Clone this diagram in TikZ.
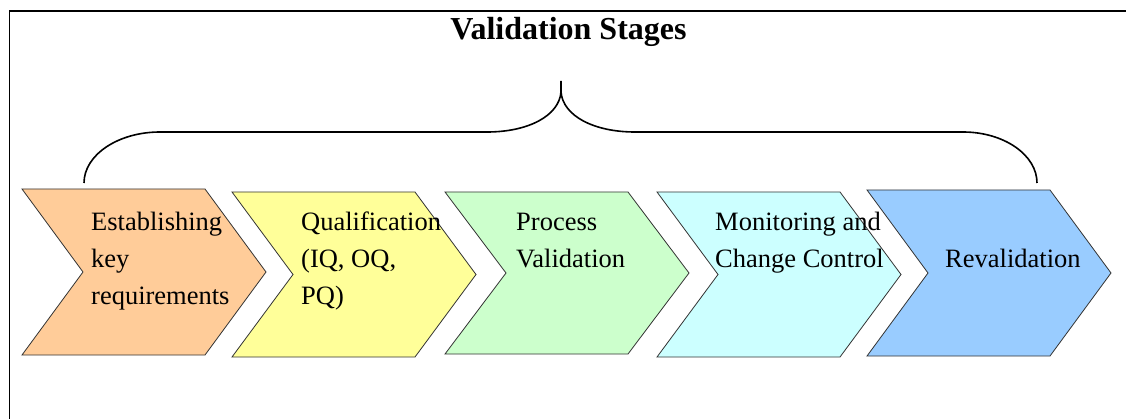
\documentclass[tikz,border=0pt]{standalone}
\usepackage{fontspec}
\setmainfont{Liberation Serif}
\usepackage{xcolor}
\usepackage{tikz}
\definecolor{Cor}{RGB}{255,204,153}
\definecolor{Cye}{RGB}{255,255,153}
\definecolor{Cgr}{RGB}{204,255,204}
\definecolor{Ccy}{RGB}{204,255,255}
\definecolor{Cbl}{RGB}{153,204,255}
\tikzset{
  stagetxt/.style={anchor=base west,inner sep=0pt,align=left,
    font=\fontsize{26.5}{37}\selectfont},
}
\begin{document}
\begin{tikzpicture}[x=1pt,y=-1pt]
    \useasboundingbox (0,0) rectangle (1126,419);
    \clip (0,0) rectangle (1126,419);
    % frame, runs off the page on the right and at the bottom
    \draw[line width=1.6pt] (9.5,440) -- (9.5,11) -- (1140,11);
    \node[anchor=base,inner sep=0pt,font=\fontsize{32}{38}\selectfont\bfseries]
      (title) at (568.5,40) {Validation Stages};
    % the five chevrons
    \foreach \x/\t/\b/\c in {22/189/355/Cor,232/192/357/Cye,445/192/354/Cgr,
                             657/192/357/Ccy,867/190/356/Cbl}{
      \filldraw[fill=\c,draw=black!80,line width=0.8pt]
        (\x,\t) -- ({\x+183},\t) -- ({\x+244},{(\t+\b)/2})
        -- ({\x+183},\b) -- (\x,\b) -- ({\x+61},{(\t+\b)/2}) -- cycle;
    }
    % brace over all stages
    \draw[line width=1.6pt]
      (84,183) .. controls (84,155) and (118,132) .. (160,132)
      -- (487,132) .. controls (528,132) and (559,116) .. (561,92)
      -- (561,81) -- (561,92)
      .. controls (563,116) and (594,132) .. (635,132)
      -- (963,132) .. controls (1004,132) and (1037,155) .. (1037,183);
    % base anchor sits on the last line
    \node[stagetxt] (est)   at (91,305)  {Establishing\\key\\requirements};
    \node[stagetxt] (qual)  at (301,305) {Qualification\\(IQ, OQ,\\PQ)};
    \node[stagetxt] (proc)  at (516,268) {Process\\Validation};
    \node[stagetxt] (mon)   at (715,268) {Monitoring and\\Change Control};
    \node[stagetxt] (reval) at (945,268) {Revalidation};
  \end{tikzpicture}
\end{document}
